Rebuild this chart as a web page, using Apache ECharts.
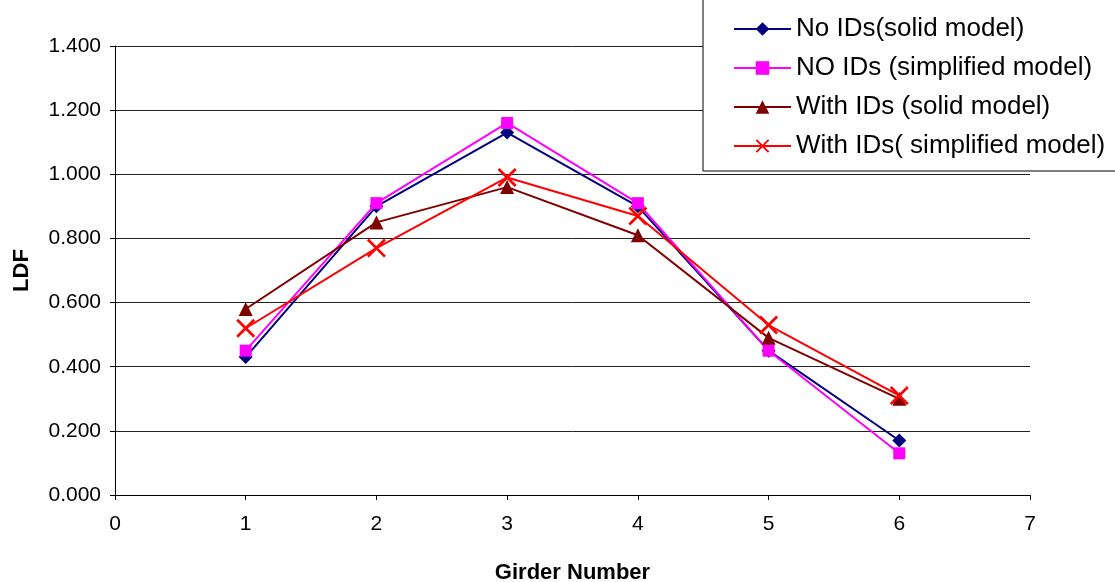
<!DOCTYPE html>
<html><head><meta charset="utf-8">
<script src="https://cdn.jsdelivr.net/npm/echarts@6/dist/echarts.min.js"></script>
<style>html,body{margin:0;padding:0;background:#fff}#c{width:1115px;height:582px}</style>
</head><body><div id="c"></div>
<script>
const girders = [1, 2, 3, 4, 5, 6];
const seriesNames = ['No IDs(solid model)', 'NO IDs (simplified model)', 'With IDs (solid model)', 'With IDs( simplified model)'];
const noIdsSolid = [0.43, 0.90, 1.13, 0.90, 0.45, 0.17];
const noIdsSimplified = [0.45, 0.91, 1.16, 0.91, 0.45, 0.13];
const withIdsSolid = [0.58, 0.85, 0.96, 0.81, 0.49, 0.30];
const withIdsSimplified = [0.52, 0.77, 0.99, 0.87, 0.53, 0.31];

const FONT = 'Liberation Sans, Arial, sans-serif';
const xPath = 'path://M0,1 L1,0 L10,9 L9,10 Z M9,0 L10,1 L1,10 L0,9 Z';
const pairs = vals => girders.map((g, i) => [g, vals[i]]);
const styles = [
  {data: noIdsSolid, color: '#000080', symbol: 'diamond', size: 14},
  {data: noIdsSimplified, color: '#FF00FF', symbol: 'rect', size: 12},
  {data: withIdsSolid, color: '#800000', symbol: 'triangle', size: 14},
  {data: withIdsSimplified, color: '#FF0000', symbol: xPath, size: 19}
];
const chart = echarts.init(document.getElementById('c'));
chart.setOption({
  animation: false,
  backgroundColor: '#fff',
  textStyle: {fontFamily: FONT},
  grid: {left: 115, right: 85, top: 46, bottom: 87, containLabel: false, outerBoundsMode: 'none'},
  legend: {
    orient: 'vertical', left: 703, top: -1,
    padding: [17, 200, 12, 30],
    borderColor: '#000', borderWidth: 1, backgroundColor: '#fff',
    itemWidth: 57, itemHeight: 17, itemGap: 13,
    textStyle: {fontSize: 26, color: '#000', fontFamily: FONT},
    data: seriesNames
  },
  xAxis: {
    type: 'value', min: 0, max: 7, interval: 1,
    name: 'Girder Number', nameLocation: 'middle', nameGap: 67,
    nameTextStyle: {fontSize: 22, fontWeight: 'bold', color: '#000'},
    axisLine: {show: true, onZero: false, lineStyle: {color: '#000', width: 1}},
    axisTick: {show: true, inside: false, length: 5, lineStyle: {color: '#000'}},
    axisLabel: {fontSize: 21, color: '#000', margin: 19},
    splitLine: {show: false}
  },
  yAxis: {
    type: 'value', min: 0, max: 1.4, interval: 0.2,
    name: 'LDF', nameLocation: 'middle', nameGap: 82, nameRotate: 90,
    nameTextStyle: {fontSize: 22, fontWeight: 'bold', color: '#000'},
    axisLine: {show: true, lineStyle: {color: '#000', width: 1}},
    axisTick: {show: true, inside: false, length: 5, lineStyle: {color: '#000'}},
    axisLabel: {fontSize: 21, color: '#000', margin: 14, formatter: v => v.toFixed(3)},
    splitLine: {show: true, lineStyle: {color: '#222', width: 1}}
  },
  series: styles.map((s, i) => ({
    name: seriesNames[i], type: 'line', data: pairs(s.data),
    symbol: s.symbol, symbolSize: s.size, showAllSymbol: true,
    lineStyle: {color: s.color, width: 2},
    itemStyle: {color: s.color},
    z: 2 + i
  }))
});
</script></body></html>
